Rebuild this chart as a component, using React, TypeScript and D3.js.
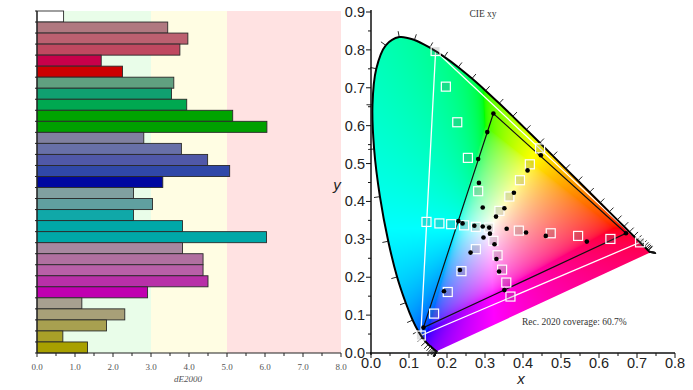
import React, { useMemo } from 'react';
import * as d3 from 'd3';

// ---- left panel: dE2000 per patch ----
const BAR_VALUES = [
  0.7, 3.44, 3.97, 3.76, 1.69, 2.25,
  3.6, 3.54, 3.94, 5.15, 6.05,
  2.81, 3.8, 4.49, 5.07, 3.31,
  2.54, 3.04, 2.54, 3.83, 6.04,
  3.83, 4.37, 4.37, 4.5, 2.91,
  1.18, 2.31, 1.83, 0.68, 1.33,
];
const BAR_COLORS = [
  '#ffffff', '#b07880', '#bc6070', '#c04860', '#c8004a', '#cc0000',
  '#60a080', '#10a070', '#00a850', '#00a400', '#00a000',
  '#8080a0', '#6870a8', '#5058a8', '#3048a8', '#0008a0',
  '#80a0a0', '#60a0a0', '#10a8a8', '#00a8a8', '#00a8a8',
  '#a888a0', '#b070a0', '#b860a8', '#b830a8', '#c000b0',
  '#a8a090', '#a8a078', '#a8a050', '#a8a028', '#a8a000',
];
const BAND_EDGES = [0, 3, 5, 8];
const BAND_COLORS = ['#e9fde9', '#fffde3', '#ffe2e2'];
const DE_TICKS = [0, 1, 2, 3, 4, 5, 6, 7, 8];

// ---- right panel: CIE 1931 xy ----
const LOCUS_NM = [380, 385, 390, 395, 400, 405, 410, 415, 420, 425, 430, 435, 440, 445, 450, 455, 460, 465, 470, 475, 480, 485, 490, 495, 500, 505, 510, 515, 520, 525, 530, 535, 540, 545, 550, 555, 560, 565, 570, 575, 580, 585, 590, 595, 600, 605, 610, 615, 620, 625, 630, 635, 640, 645, 650, 655, 660, 665, 670, 675, 680, 685, 690, 695, 700];
const LOCUS_X = [0.1741, 0.174, 0.1738, 0.1736, 0.1733, 0.173, 0.1726, 0.1721, 0.1714, 0.1703, 0.1689, 0.1669, 0.1644, 0.1611, 0.1566, 0.151, 0.144, 0.1355, 0.1241, 0.1096, 0.0913, 0.0687, 0.0454, 0.0235, 0.0082, 0.0039, 0.0139, 0.0389, 0.0743, 0.1142, 0.1547, 0.1929, 0.2296, 0.2658, 0.3016, 0.3373, 0.3731, 0.4087, 0.4441, 0.4788, 0.5125, 0.5448, 0.5752, 0.6029, 0.627, 0.6482, 0.6658, 0.6801, 0.6915, 0.7006, 0.7079, 0.714, 0.719, 0.723, 0.726, 0.7283, 0.73, 0.7311, 0.732, 0.7327, 0.7334, 0.734, 0.7344, 0.7346, 0.7347];
const LOCUS_Y = [0.005, 0.005, 0.0049, 0.0049, 0.0048, 0.0048, 0.0048, 0.0048, 0.0051, 0.0058, 0.0069, 0.0086, 0.0109, 0.0138, 0.0177, 0.0227, 0.0297, 0.0399, 0.0578, 0.0868, 0.1327, 0.2007, 0.295, 0.4127, 0.5384, 0.6548, 0.7502, 0.812, 0.8338, 0.8262, 0.8059, 0.7816, 0.7543, 0.7243, 0.6923, 0.6589, 0.6245, 0.5896, 0.5547, 0.5202, 0.4866, 0.4544, 0.4242, 0.3965, 0.3725, 0.3514, 0.334, 0.3197, 0.3083, 0.2993, 0.292, 0.2859, 0.2809, 0.277, 0.274, 0.2717, 0.27, 0.2689, 0.268, 0.2673, 0.2666, 0.266, 0.2656, 0.2654, 0.2653];

const REC2020_X = [0.708, 0.17, 0.131];
const REC2020_Y = [0.292, 0.797, 0.046];
const GAMUT_X = [0.671, 0.322, 0.138];
const GAMUT_Y = [0.316, 0.632, 0.067];

const TARGET_X = [
  0.311,
  0.389, 0.473, 0.545, 0.63, 0.708,
  0.282, 0.255, 0.227, 0.197, 0.17,
  0.276, 0.238, 0.202, 0.166, 0.131,
  0.276, 0.245, 0.211, 0.18, 0.146,
  0.322, 0.333, 0.345, 0.356, 0.367,
  0.338, 0.364, 0.392, 0.418, 0.445,
];
const TARGET_Y = [
  0.331,
  0.323, 0.316, 0.309, 0.301, 0.292,
  0.427, 0.515, 0.609, 0.703, 0.797,
  0.274, 0.216, 0.161, 0.104, 0.046,
  0.333, 0.337, 0.34, 0.342, 0.346,
  0.296, 0.258, 0.22, 0.186, 0.149,
  0.375, 0.413, 0.456, 0.498, 0.54,
];
const MEASURED_X = [
  0.311,
  0.357, 0.408, 0.46, 0.568, 0.671,
  0.294, 0.284, 0.282, 0.306, 0.322,
  0.296, 0.262, 0.234, 0.192, 0.138,
  0.294, 0.272, 0.241, 0.23,
  0.313, 0.325, 0.33, 0.337, 0.351,
  0.329, 0.351, 0.376, 0.412, 0.447,
];
const MEASURED_Y = [
  0.331,
  0.328, 0.318, 0.309, 0.294, 0.316,
  0.384, 0.449, 0.512, 0.583, 0.632,
  0.305, 0.265, 0.219, 0.163, 0.067,
  0.334, 0.336, 0.342, 0.348,
  0.315, 0.287, 0.248, 0.215, 0.166,
  0.36, 0.382, 0.423, 0.482, 0.522,
];
const XY_TICKS = [0, 0.1, 0.2, 0.3, 0.4, 0.5, 0.6, 0.7, 0.8];
const Y_TICKS = [0, 0.1, 0.2, 0.3, 0.4, 0.5, 0.6, 0.7, 0.8, 0.9];

// xy -> display colour (desaturate to positive, normalise to max)
function xyToRgb(x: number, y: number): [number, number, number] {
  const X = x / y, Y = 1, Z = (1 - x - y) / y;
  let r = 3.2406 * X - 1.5372 * Y - 0.4986 * Z;
  let g = -0.9689 * X + 1.8758 * Y + 0.0415 * Z;
  let b = 0.0557 * X - 0.204 * Y + 1.057 * Z;
  const m = Math.min(r, g, b);
  if (m < 0) { r -= m; g -= m; b -= m; }
  const mx = Math.max(r, g, b);
  const enc = (v: number) => {
    v = v / mx;
    return Math.round(255 * (v <= 0.0031308 ? 12.92 * v : 1.055 * Math.pow(v, 1 / 2.4) - 0.055));
  };
  return [enc(r), enc(g), enc(b)];
}

const App: React.FC = () => {
  // left panel scales
  const bx = d3.scaleLinear().domain([0, 8]).range([37, 341]);
  const by = d3.scaleBand<number>().domain(d3.range(BAR_VALUES.length)).range([11, 353]).padding(0);

  // right panel scales
  const cx = d3.scaleLinear().domain([0, 0.8]).range([371, 675]);
  const cy = d3.scaleLinear().domain([0, 0.9]).range([353, 12]);

  const locus = LOCUS_NM.map((nm, i) => ({ nm, x: LOCUS_X[i], y: LOCUS_Y[i] }));
  const line = d3.line<{ x: number; y: number }>().x((d) => cx(d.x)).y((d) => cy(d.y));
  const smooth = d3.line<{ x: number; y: number }>().x((d) => cx(d.x)).y((d) => cy(d.y)).curve(d3.curveCatmullRom.alpha(0.5));
  const locusPath = smooth(locus) || '';
  const locusClosed = locusPath + 'Z';
  const tri = (xs: number[], ys: number[]) => (line(xs.map((x, i) => ({ x, y: ys[i] }))) || '') + 'Z';

  const gamutImage = useMemo(() => {
    const x0 = Math.floor(cx(0)), x1 = Math.ceil(cx(0.8));
    const y0 = Math.floor(cy(0.9)), y1 = Math.ceil(cy(0));
    const w = x1 - x0, h = y1 - y0;
    const canvas = document.createElement('canvas');
    canvas.width = w; canvas.height = h;
    const ctx = canvas.getContext('2d');
    if (!ctx) return null;
    const img = ctx.createImageData(w, h);
    for (let j = 0; j < h; j++) {
      const yv = cy.invert(y0 + j + 0.5);
      for (let i = 0; i < w; i++) {
        const xv = cx.invert(x0 + i + 0.5);
        const k = (j * w + i) * 4;
        if (yv <= 0.001 || xv <= 0) { img.data[k + 3] = 0; continue; }
        const [r, g, b] = xyToRgb(xv, yv);
        img.data[k] = r; img.data[k + 1] = g; img.data[k + 2] = b; img.data[k + 3] = 255;
      }
    }
    ctx.putImageData(img, 0, 0);
    return { href: canvas.toDataURL(), x: x0, y: y0, w, h };
  }, []);

  // wavelength ticks, pointing out of the horseshoe
  const centre = [cx(0.33), cy(0.33)];
  const locusTicks = locus.map((d, i) => {
    const p = [cx(d.x), cy(d.y)];
    const a = locus[Math.max(0, i - 1)], b = locus[Math.min(locus.length - 1, i + 1)];
    const tx = cx(b.x) - cx(a.x), ty = cy(b.y) - cy(a.y);
    let len = Math.hypot(tx, ty);
    let nx: number, ny: number;
    if (len < 1.5) {
      nx = p[0] - centre[0]; ny = p[1] - centre[1];
      len = Math.hypot(nx, ny);
      nx /= len; ny /= len;
    } else {
      nx = -ty / len; ny = tx / len;
      if (nx * (p[0] - centre[0]) + ny * (p[1] - centre[1]) < 0) { nx = -nx; ny = -ny; }
    }
    return { x1: p[0], y1: p[1], x2: p[0] + nx * 6, y2: p[1] + ny * 6, nm: d.nm };
  });

  const serif = '"Liberation Serif", "Times New Roman", serif';
  const sans = '"Liberation Sans", Arial, sans-serif';

  return (
    <svg width={693} height={390} style={{ position: 'absolute', left: 0, top: 0, background: '#fff' }}>
      {/* ---------- left: dE2000 bars ---------- */}
      <g>
        {BAND_COLORS.map((c, i) => (
          <rect key={'band' + i} x={bx(BAND_EDGES[i])} y={11} width={bx(BAND_EDGES[i + 1]) - bx(BAND_EDGES[i])} height={342} fill={c} />
        ))}
        {BAR_VALUES.map((v, i) => (
          <rect key={'bar' + i} x={bx(0)} y={by(i)} width={bx(v) - bx(0)} height={by.bandwidth()}
            fill={BAR_COLORS[i]} stroke="#2a2a2a" strokeWidth={0.9} />
        ))}
        <line x1={bx(0)} x2={bx(0)} y1={11} y2={353} stroke="#222" strokeWidth={1.2} />
        {d3.range(BAR_VALUES.length + 1).map((i) => (
          <line key={'yt' + i} x1={bx(0) - 2} x2={bx(0)} y1={11 + i * by.bandwidth()} y2={11 + i * by.bandwidth()} stroke="#222" />
        ))}
        <line x1={bx(0)} x2={bx(8)} y1={353} y2={353} stroke="#222" strokeWidth={1.2} />
        {d3.range(0, 8.01, 0.5).map((t) => (
          <line key={'xt' + t} x1={bx(t)} x2={bx(t)} y1={353} y2={t % 1 === 0 ? 357 : 356} stroke="#222" />
        ))}
        {DE_TICKS.map((t) => (
          <text key={'xl' + t} x={bx(t)} y={370} textAnchor="middle" fontFamily={serif} fontSize={9} fill="#555">
            {t.toFixed(1)}
          </text>
        ))}
        <text x={bx(4) - 1} y={382} textAnchor="middle" fontFamily={serif} fontSize={9} fontStyle="italic" fill="#555">dE2000</text>
      </g>

      {/* ---------- right: CIE xy ---------- */}
      <defs>
        <clipPath id="locusClip">
          <path d={locusClosed} />
        </clipPath>
      </defs>
      {gamutImage && (
        <image href={gamutImage.href} x={gamutImage.x} y={gamutImage.y} width={gamutImage.w} height={gamutImage.h}
          clipPath="url(#locusClip)" preserveAspectRatio="none" />
      )}
      <path d={tri(REC2020_X, REC2020_Y)} fill="none" stroke="#fff" strokeWidth={1.3} />
      <path d={tri(GAMUT_X, GAMUT_Y)} fill="none" stroke="#111" strokeWidth={1.2} />
      <path d={locusPath} fill="none" stroke="#000" strokeWidth={2} />
      {locusTicks.map((t) => (
        <line key={'lt' + t.nm} x1={t.x1} y1={t.y1} x2={t.x2} y2={t.y2} stroke="#111" strokeWidth={0.9} />
      ))}
      {TARGET_X.map((x, i) => (
        <rect key={'sq' + i} x={cx(x) - 4.5} y={cy(TARGET_Y[i]) - 4.5} width={9} height={9}
          fill="rgba(110,110,110,0.22)" stroke="#fff" strokeWidth={1.2} />
      ))}
      {MEASURED_X.map((x, i) => (
        <circle key={'pt' + i} cx={cx(x)} cy={cy(MEASURED_Y[i])} r={2.3} fill="#000" />
      ))}

      {/* axes */}
      <line x1={cx(0)} x2={cx(0)} y1={cy(0) + 2} y2={cy(0.9) - 2} stroke="#111" strokeWidth={1.5} />
      <line x1={cx(0) - 1} x2={cx(0.8)} y1={cy(0)} y2={cy(0)} stroke="#111" strokeWidth={1.5} />
      {d3.range(0, 0.901, 0.05).map((t) => {
        const major = Math.abs(t * 10 - Math.round(t * 10)) < 1e-6;
        return <line key={'cyt' + t} x1={cx(0) - (major ? 5 : 3)} x2={cx(0)} y1={cy(t)} y2={cy(t)} stroke="#111" />;
      })}
      {d3.range(0, 0.801, 0.05).map((t) => {
        const major = Math.abs(t * 10 - Math.round(t * 10)) < 1e-6;
        return <line key={'cxt' + t} x1={cx(t)} x2={cx(t)} y1={cy(0)} y2={cy(0) + (major ? 5 : 3)} stroke="#111" />;
      })}
      {Y_TICKS.map((t) => (
        <text key={'cyl' + t} x={cx(0) - 6} y={cy(t) + 5} textAnchor="end" fontFamily={sans} fontSize={14.5} fill="#222">
          {t.toFixed(1)}
        </text>
      ))}
      {XY_TICKS.map((t) => (
        <text key={'cxl' + t} x={cx(t)} y={cy(0) + 15} textAnchor="middle" fontFamily={sans} fontSize={14.5} fill="#222">
          {t.toFixed(1)}
        </text>
      ))}
      <text x={cx(0.4) - 2} y={384} textAnchor="middle" fontFamily={sans} fontSize={15} fontStyle="italic" fill="#222">x</text>
      <text x={337} y={190} textAnchor="middle" fontFamily={sans} fontSize={15} fontStyle="italic" fill="#222">y</text>
      <text x={483} y={17} textAnchor="middle" fontFamily={serif} fontSize={9.5} fill="#333">CIE xy</text>
      <text x={522} y={325} fontFamily={serif} fontSize={9.5} fill="#333">Rec. 2020 coverage: 60.7%</text>
    </svg>
  );
};

export default App;
